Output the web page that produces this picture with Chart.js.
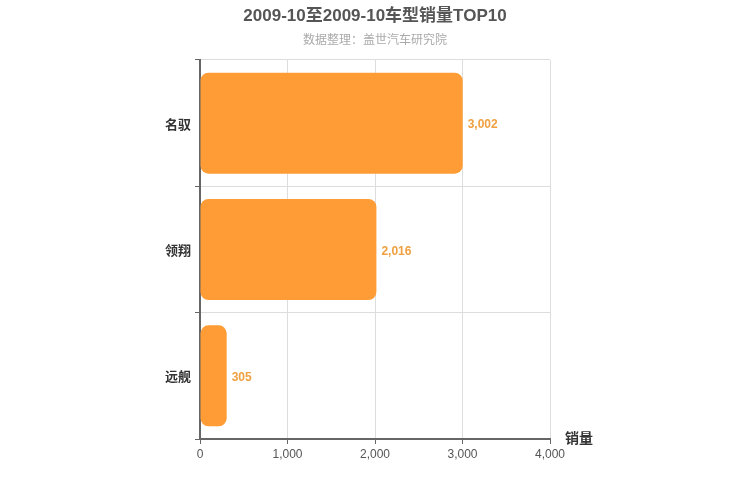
<!DOCTYPE html>
<html>
<head>
<meta charset="utf-8">
<script src="https://cdn.jsdelivr.net/npm/chart.js@4/dist/chart.umd.min.js"></script>
<style>
  html, body { margin: 0; padding: 0; background: #fff; }
  #wrap { width: 750px; height: 500px; }
</style>
</head>
<body>
<div id="wrap"><canvas id="sales-chart"></canvas></div>
<script>
const models = ['名驭', '领翔', '远舰'];
const sales = [3002, 2016, 305];
const xTicks = [0, 1000, 2000, 3000, 4000];

const titleText = '2009-10至2009-10车型销量TOP10';
const subtitleText = '数据整理：盖世汽车研究院';
const axisName = '销量';
const FONT = '"Liberation Sans", "Noto Sans CJK SC", sans-serif';

const extras = {
  id: 'extras',
  afterDraw(chart) {
    const ctx = chart.ctx;
    ctx.save();
    ctx.textAlign = 'center';
    ctx.textBaseline = 'middle';
    ctx.fillStyle = '#555';
    ctx.font = 'bold 17px ' + FONT;
    ctx.fillText(titleText, chart.width / 2, 16);
    ctx.fillStyle = '#aaa';
    ctx.font = '12px ' + FONT;
    ctx.fillText(subtitleText, chart.width / 2, 41);

    // value labels
    const meta = chart.getDatasetMeta(0);
    ctx.fillStyle = '#f0a040';
    ctx.font = 'bold 12px ' + FONT;
    ctx.textAlign = 'left';
    meta.data.forEach((bar, i) => {
      ctx.fillText(sales[i].toLocaleString('en-US'), bar.x + 5, bar.y + 2);
    });

    // axis name
    const x = chart.scales.x;
    ctx.fillStyle = '#333';
    ctx.font = 'bold 14px ' + FONT;
    ctx.fillText(axisName, x.right + 15, x.top);
    ctx.restore();
  }
};

new Chart(document.getElementById('sales-chart'), {
  type: 'bar',
  data: {
    labels: models,
    datasets: [{
      data: sales,
      backgroundColor: '#ff9c35',
      borderRadius: 8,
      borderSkipped: false,
      barPercentage: 0.8,
      categoryPercentage: 1,
    }],
  },
  options: {
    indexAxis: 'y',
    responsive: true,
    maintainAspectRatio: false,
    animation: false,
    layout: { padding: { top: 60, right: 200, bottom: 0, left: 0 } },
    plugins: {
      legend: { display: false },
      tooltip: { enabled: false },
    },
    scales: {
      x: {
        min: 0,
        max: 4000,
        afterBuildTicks(scale) {
          scale.ticks = xTicks.map((v) => ({ value: v }));
        },
        afterFit(scale) { scale.height = 61; },
        grid: { color: '#ddd', tickColor: '#666', tickLength: 5 },
        border: { color: '#666', width: 2 },
        ticks: {
          color: '#555',
          font: { size: 12, family: FONT },
          padding: 3,
          callback: (v) => v.toLocaleString('en-US'),
        },
      },
      y: {
        afterFit(scale) { scale.width = 200; },
        grid: { color: '#ddd', tickColor: '#666', tickLength: 5, offset: true },
        border: { color: '#666', width: 2 },
        ticks: {
          color: '#333',
          font: { size: 13, family: FONT, weight: 'bold' },
          padding: 4,
          labelOffset: 2,
        },
      },
    },
  },
  plugins: [extras],
});
</script>
</body>
</html>
